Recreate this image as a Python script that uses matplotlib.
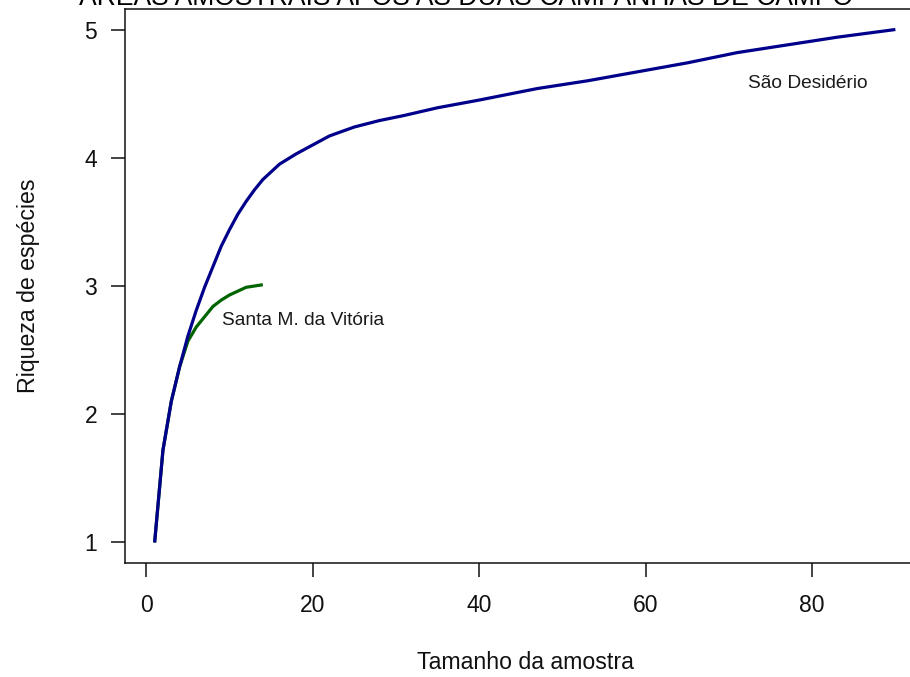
import matplotlib
matplotlib.use("Agg")
import matplotlib.pyplot as plt

plt.rcParams['font.family'] = ['Liberation Sans', 'DejaVu Sans']

# rarefaction curves
sd_n = [1, 2, 3, 4, 5, 6, 7, 8, 9, 10, 11, 12, 13, 14, 15, 16, 18, 20, 22, 25,
        28, 31, 35, 40, 47, 53, 59, 65, 71, 77, 83, 90]
sd_rich = [1.00, 1.72, 2.10, 2.37, 2.61, 2.81, 2.99, 3.15, 3.31, 3.44, 3.56, 3.66,
           3.75, 3.83, 3.89, 3.95, 4.03, 4.10, 4.17, 4.24, 4.29, 4.33, 4.39, 4.45,
           4.54, 4.60, 4.67, 4.74, 4.82, 4.88, 4.94, 5.00]

smv_n = [1, 2, 3, 4, 5, 6, 7, 8, 9, 10, 11, 12, 13, 14]
smv_rich = [1.00, 1.72, 2.10, 2.37, 2.57, 2.68, 2.76, 2.84, 2.89, 2.93, 2.96, 2.99,
            3.00, 3.01]

site_names = ["São Desidério", "Santa M. da Vitória"]
label_pos = [(79.5, 4.58), (18.8, 2.73)]

x_ticks = [0, 20, 40, 60, 80]
y_ticks = [1, 2, 3, 4, 5]

fig = plt.figure(figsize=(9.1, 6.77), dpi=100)
# R-style plot region; right edge of the box falls outside the image
ax = fig.add_axes([125 / 910, 1 - 563 / 677, 800 / 910, 554 / 677])

ax.plot(smv_n, smv_rich, color="#006400", lw=2.3, solid_capstyle="butt")
ax.plot(sd_n, sd_rich, color="#00008B", lw=2.3, solid_capstyle="butt")

for name, (tx, ty) in zip(site_names, label_pos):
    ax.text(tx, ty, name, ha="center", va="center", fontsize=13.8, color="#1a1a1a")

ax.set_xlim(1 - 0.04 * 89, 90 + 0.04 * 89)
ax.set_ylim(1 - 0.04 * 4, 5 + 0.04 * 4)
ax.set_xticks(x_ticks)
ax.set_yticks(y_ticks)
ax.tick_params(axis="both", direction="out", length=10, width=1.1,
               labelsize=16.5, colors="#111111")
ax.tick_params(axis="x", pad=12)
ax.tick_params(axis="y", pad=10)
for s in ax.spines.values():
    s.set_linewidth(1.1)
    s.set_color("#111111")

ax.set_xlabel("Tamanho da amostra", fontsize=16.7, color="#111111")
ax.set_ylabel("Riqueza de espécies", fontsize=16.7, color="#111111")
ax.xaxis.set_label_coords(0.5, -0.18)
ax.yaxis.set_label_coords(-0.121, 0.5)
ax.xaxis.label.set_va("center")
ax.yaxis.label.set_va("center")

# title mostly cropped off at the top of the image
fig.text(466.5 / 910, 1 - 5 / 677, "ÁREAS AMOSTRAIS APÓS AS DUAS CAMPANHAS DE CAMPO",
         ha="center", va="baseline", fontsize=19.1, color="black")

fig.savefig("out.png", dpi=100)
